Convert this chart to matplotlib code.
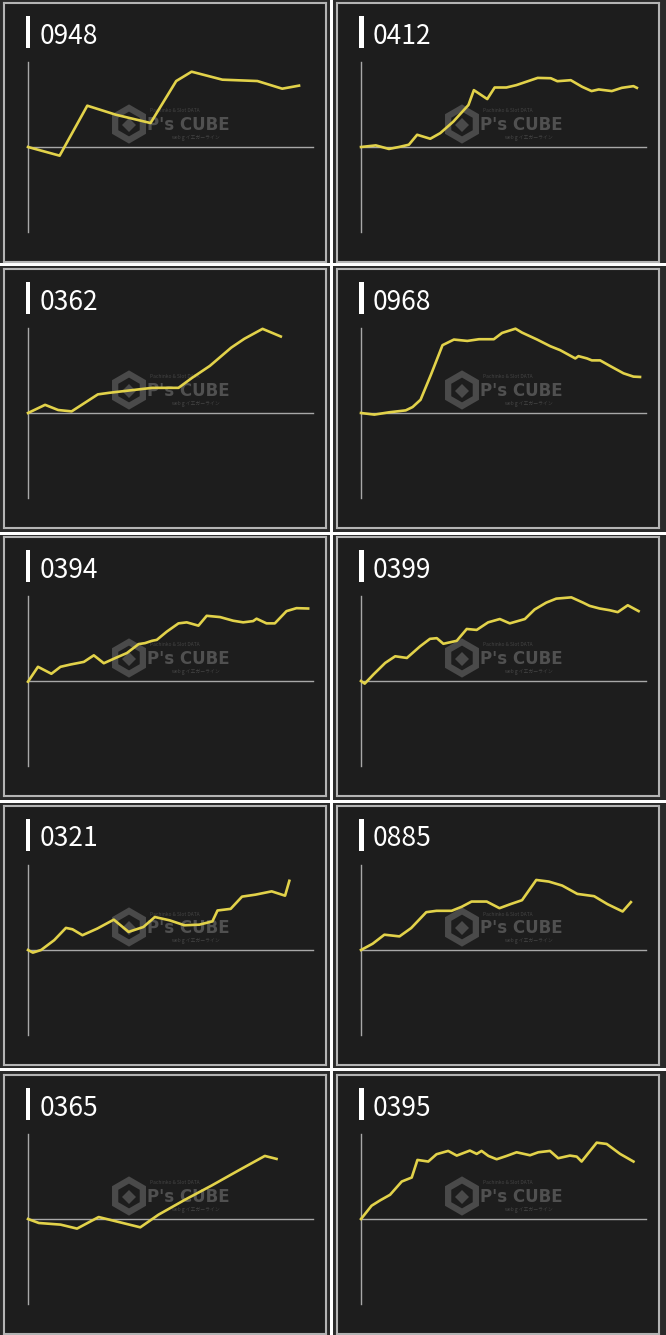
import numpy as np
import matplotlib.pyplot as plt
from matplotlib.patches import Rectangle, RegularPolygon

plt.rcParams['font.family'] = ['Noto Sans CJK JP', 'DejaVu Sans']

# 台番号ごとの差枚推移 (縦軸は表示範囲に対する割合, 横軸は進行度)
titles = ['0948', '0412', '0362', '0968', '0394', '0399', '0321', '0885', '0365', '0395']

x_0948 = [0, 11.1, 20.8, 30.8, 43.0, 52.0, 57.4, 68.2, 80.5, 89.2, 95.1]
y_0948 = [0, -10.2, 48.6, 38.0, 28.2, 77.6, 88.6, 79.2, 77.6, 68.6, 72.2]

x_0412 = [0, 5.2, 9.8, 13.3, 16.8, 19.7, 24.3, 27.8, 32.4, 37.7, 39.6, 44.3, 46.9,
          51.0, 54.5, 62.0, 66.6, 68.9, 73.6, 77.6, 80.9, 83.4, 88.0, 91.5, 95.6, 96.8]
y_0412 = [0, 1.9, -2.3, 0, 2.7, 14.4, 9.7, 16.3, 29.9, 49.4, 66.9, 56.4, 70.0,
          70.0, 72.8, 81.3, 80.9, 77.4, 78.6, 70.8, 65.8, 67.7, 65.8, 69.6, 71.6, 69.6]

x_0362 = [0, 6.0, 10.6, 15.3, 24.5, 28.6, 36.6, 43.6, 52.8, 57.5, 63.8, 71.3, 75.9, 82.3, 88.7]
y_0362 = [0, 9.6, 3.5, 1.9, 21.9, 23.8, 26.9, 29.6, 29.6, 41.2, 55.4, 76.9, 87.3, 99.0, 90.0]

x_0968 = [0, 4.7, 9.8, 15.7, 18.1, 20.9, 24.5, 28.6, 32.6, 37.3, 41.4, 46.6, 49.5, 54.2,
          56.5, 61.8, 66.4, 69.9, 75.2, 76.3, 79.3, 81.0, 83.9, 87.4, 92.1, 95.6, 97.9]
y_0968 = [0, -1.9, 0.8, 3.1, 7.0, 15.6, 44.7, 79.8, 86.4, 84.8, 86.8, 86.8, 94.2, 99.2,
          94.6, 86.4, 78.6, 73.9, 64.2, 66.9, 64.2, 61.9, 61.9, 55.3, 46.7, 42.8, 42.4]

x_0394 = [0, 3.5, 8.2, 11.4, 14.9, 17.8, 19.6, 23.1, 26.6, 30.7, 34.7, 38.8, 41.1, 43.5, 45.2,
          48.7, 52.8, 55.7, 59.8, 62.7, 67.4, 72.0, 75.5, 79.0, 80.2, 83.7, 86.6, 90.7, 94.2, 98.3]
y_0394 = [-0.8, 16.7, 8.5, 16.7, 19.4, 21.3, 22.5, 30.2, 20.9, 27.1, 32.9, 43.4, 44.6, 47.3, 48.4,
          58.1, 67.8, 69.0, 65.1, 76.7, 75.2, 70.9, 69.0, 70.5, 73.3, 67.8, 67.8, 82.2, 85.7, 85.3]

x_0399 = [0, 1.3, 4.4, 8.5, 12.0, 16.1, 20.7, 24.2, 26.6, 28.9, 33.6, 37.1, 40.6, 44.6,
          48.7, 52.2, 57.5, 60.9, 65.0, 68.5, 73.8, 77.9, 80.2, 83.7, 87.2, 90.1, 93.6, 97.4]
y_0399 = [0, -3.1, 7.8, 21.3, 29.1, 27.1, 40.7, 49.6, 50.4, 43.8, 47.3, 61.2, 60.1, 69.0,
          72.9, 67.8, 72.9, 84.1, 92.2, 96.9, 98.4, 92.2, 88.4, 85.3, 83.3, 81.0, 89.1, 82.2]

x_0321 = [0, 1.7, 4.6, 9.2, 13.3, 15.6, 19.1, 24.3, 30.1, 35.3, 40.5, 44.5, 49.7, 54.9,
          60.1, 64.7, 66.5, 71.1, 75.1, 79.8, 85.5, 90.2, 91.7]
y_0321 = [0, -3.1, 0, 11.6, 26.0, 24.4, 17.4, 25.2, 35.7, 21.3, 27.1, 38.8, 34.9, 29.1,
          29.8, 33.7, 46.5, 48.4, 62.8, 65.1, 69.0, 63.9, 81.4]

x_0885 = [0, 4.1, 8.2, 13.5, 17.6, 22.9, 26.5, 31.8, 35.3, 38.8, 44.1, 48.6, 52.4, 56.5,
          61.5, 65.9, 70.6, 75.9, 81.8, 86.5, 91.8, 94.7]
y_0885 = [0, 7.4, 18.0, 16.0, 25.8, 44.5, 46.1, 46.1, 50.8, 57.0, 57.0, 49.2, 53.9, 58.6,
          82.4, 80.5, 75.8, 66.0, 63.3, 53.9, 45.3, 56.3]

x_0365 = [0, 3.8, 11.4, 17.2, 24.8, 39.4, 45.8, 55.1, 64.5, 73.8, 83.1, 87.2]
y_0365 = [0, -4.7, -6.6, -11.3, 2.3, -9.8, 5.1, 22.7, 39.5, 57.0, 74.2, 70.7]

x_0395 = [0, 3.7, 6.7, 10.2, 14.3, 17.8, 19.8, 23.6, 26.5, 30.6, 33.6, 38.2, 40.6, 42.3, 44.7,
          47.6, 51.1, 54.6, 59.3, 62.2, 66.3, 69.2, 73.3, 75.7, 77.4, 82.7, 86.2, 90.9, 95.6]
y_0395 = [0, 15.6, 21.9, 28.5, 44.1, 48.8, 69.5, 67.6, 76.2, 80.1, 74.6, 80.5, 76.6, 80.1, 74.2,
          70.3, 74.2, 78.5, 75.0, 78.5, 80.1, 71.5, 74.6, 73.4, 67.6, 89.8, 88.3, 76.6, 67.6]

xs = [x_0948, x_0412, x_0362, x_0968, x_0394, x_0399, x_0321, x_0885, x_0365, x_0395]
ys = [y_0948, y_0412, y_0362, y_0968, y_0394, y_0399, y_0321, y_0885, y_0365, y_0395]

# レイアウト (ピクセル)
FW, FH = 666, 1335
cell_rows = [(0, 263), (266, 532), (535, 800), (803, 1068), (1071, 1335)]
cell_cols = [(0, 330), (333, 666)]
row_tops = [3, 269, 537, 806, 1075]
col_lefts = [4, 337]
pw, ph = 322, 259

fig = plt.figure(figsize=(FW / 100, FH / 100), dpi=100, facecolor='white')

bg = fig.add_axes([0, 0, 1, 1])
bg.set_xlim(0, FW)
bg.set_ylim(FH, 0)
bg.axis('off')
for (r0, r1) in cell_rows:
    for (c0, c1) in cell_cols:
        bg.add_patch(Rectangle((c0, r0), c1 - c0, r1 - r0, color='#2a2a2a', lw=0))

for i, title in enumerate(titles):
    row, col = divmod(i, 2)
    l, t = col_lefts[col], row_tops[row]

    ax = fig.add_axes([l / FW, 1 - (t + ph) / FH, pw / FW, ph / FH])
    ax.set_facecolor('#1d1d1d')
    ax.set_xlim(0, pw)
    ax.set_ylim(ph, 0)
    ax.set_xticks([])
    ax.set_yticks([])
    for sp in ax.spines.values():
        sp.set_color('#b4b4b4')
        sp.set_linewidth(1.5)

    # タイトル
    ax.add_patch(Rectangle((22, 13), 4.5, 32, color='white', lw=0))
    ax.text(36, 33, title, color='white', fontsize=19, va='center', ha='left')

    # ウォーターマーク
    ax.add_patch(RegularPolygon((125, 121), 6, radius=16, fill=False,
                                edgecolor='#4a4a4a', lw=4.5))
    ax.add_patch(RegularPolygon((125, 122), 4, radius=7, color='#4a4a4a', lw=0))
    ax.text(143, 122, "P's CUBE", color='#505050', fontsize=12, fontweight='bold',
            va='center', ha='left', family=['DejaVu Sans'])
    ax.text(146, 108, 'Pachinko & Slot DATA', color='#444444', fontsize=3.5,
            va='center', ha='left')
    ax.text(168, 134, 'webｇイエガーライン', color='#444444', fontsize=3.5,
            va='center', ha='left')

    # グラフ
    ax2 = fig.add_axes([(l + 24) / FW, 1 - (t + 229) / FH, 285 / FW, 170 / FH])
    ax2.patch.set_alpha(0)
    ax2.axis('off')
    ax2.set_xlim(0, 100)
    ax2.set_ylim(-100, 100)
    ax2.axvline(0, color='#a8a8a8', lw=1, clip_on=False)
    ax2.axhline(0, color='#a8a8a8', lw=1, clip_on=False)
    ax2.plot(xs[i], ys[i], color='#e2d24a', lw=1.9, solid_joinstyle='round',
             clip_on=False)

fig.savefig('out.png', dpi=100, facecolor='white')
